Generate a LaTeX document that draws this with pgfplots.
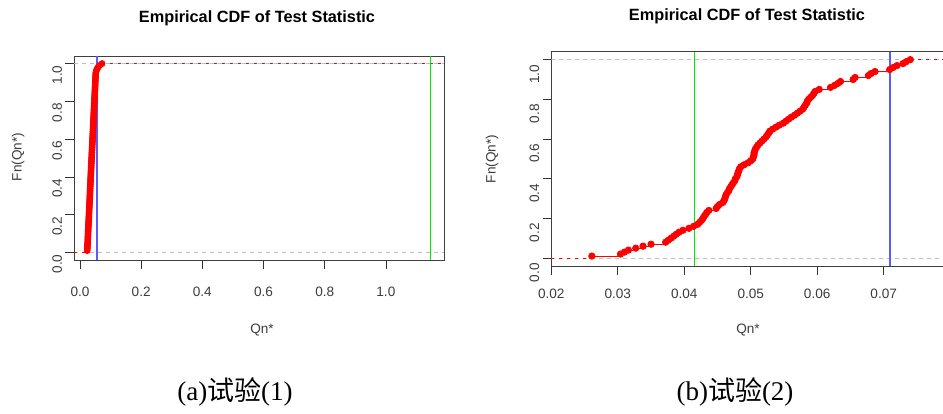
\documentclass[border=0pt]{standalone}
\usepackage{fontspec}
\setmainfont{Liberation Sans}
\newfontfamily\capfont{Liberation Serif}
\newfontfamily\cjk{Noto Sans CJK SC}
\usepackage{pgfplots}
\pgfplotsset{compat=1.18}
\definecolor{cutblue}{RGB}{90,90,255}
\definecolor{cutgreen}{RGB}{0,235,0}
\definecolor{ecdfred}{RGB}{255,0,0}
\definecolor{refgray}{RGB}{190,190,190}
\definecolor{rtext}{RGB}{60,60,60}

% ecdf of experiment 1 (x_i, i/100)
\pgfplotstableread{
x y
0.0235 0.01
0.0240 0.02
0.0243 0.03
0.0246 0.04
0.0249 0.05
0.0252 0.06
0.0255 0.07
0.0258 0.08
0.0261 0.09
0.0263 0.10
0.0266 0.11
0.0269 0.12
0.0272 0.13
0.0275 0.14
0.0278 0.15
0.0281 0.16
0.0284 0.17
0.0287 0.18
0.0290 0.19
0.0293 0.20
0.0296 0.21
0.0299 0.22
0.0302 0.23
0.0305 0.24
0.0308 0.25
0.0311 0.26
0.0314 0.27
0.0317 0.28
0.0320 0.29
0.0322 0.30
0.0325 0.31
0.0328 0.32
0.0330 0.33
0.0333 0.34
0.0336 0.35
0.0339 0.36
0.0342 0.37
0.0345 0.38
0.0347 0.39
0.0350 0.40
0.0353 0.41
0.0356 0.42
0.0359 0.43
0.0362 0.44
0.0365 0.45
0.0368 0.46
0.0371 0.47
0.0374 0.48
0.0377 0.49
0.0380 0.50
0.0383 0.51
0.0386 0.52
0.0389 0.53
0.0392 0.54
0.0395 0.55
0.0398 0.56
0.0401 0.57
0.0404 0.58
0.0407 0.59
0.0410 0.60
0.0413 0.61
0.0416 0.62
0.0419 0.63
0.0422 0.64
0.0425 0.65
0.0428 0.66
0.0431 0.67
0.0434 0.68
0.0437 0.69
0.0440 0.70
0.0443 0.71
0.0446 0.72
0.0449 0.73
0.0452 0.74
0.0455 0.75
0.0458 0.76
0.0461 0.77
0.0464 0.78
0.0467 0.79
0.0470 0.80
0.0473 0.81
0.0476 0.82
0.0479 0.83
0.0482 0.84
0.0485 0.85
0.0488 0.86
0.0491 0.87
0.0494 0.88
0.0497 0.89
0.0500 0.90
0.0503 0.91
0.0506 0.92
0.0509 0.93
0.0512 0.94
0.0516 0.95
0.0530 0.96
0.0550 0.97
0.0590 0.98
0.0640 0.99
0.0720 1.00
}\expone

% ecdf of experiment 2 (x_i, i/100)
\pgfplotstableread{
x y
0.0261 0.01
0.0304 0.02
0.0310 0.03
0.0316 0.04
0.0327 0.05
0.0338 0.06
0.0350 0.07
0.0372 0.08
0.0376 0.09
0.0380 0.10
0.0384 0.11
0.0388 0.12
0.0392 0.13
0.0398 0.14
0.0407 0.15
0.0414 0.16
0.0420 0.17
0.0423 0.18
0.0426 0.19
0.0428 0.20
0.0430 0.21
0.0432 0.22
0.0434 0.23
0.0437 0.24
0.0448 0.25
0.0450 0.26
0.0453 0.27
0.0458 0.28
0.0460 0.29
0.0461 0.30
0.0462 0.31
0.0463 0.32
0.0465 0.33
0.0467 0.34
0.0468 0.35
0.0470 0.36
0.0472 0.37
0.0474 0.38
0.0476 0.39
0.0477 0.40
0.0479 0.41
0.0480 0.42
0.0481 0.43
0.0482 0.44
0.0483 0.45
0.0485 0.46
0.0490 0.47
0.0496 0.48
0.0500 0.49
0.0503 0.50
0.0504 0.51
0.0505 0.52
0.0505 0.53
0.0506 0.54
0.0507 0.55
0.0509 0.56
0.0511 0.57
0.0514 0.58
0.0517 0.59
0.0520 0.60
0.0523 0.61
0.0525 0.62
0.0527 0.63
0.0529 0.64
0.0533 0.65
0.0538 0.66
0.0543 0.67
0.0549 0.68
0.0553 0.69
0.0557 0.70
0.0561 0.71
0.0566 0.72
0.0570 0.73
0.0574 0.74
0.0578 0.75
0.0580 0.76
0.0582 0.77
0.0584 0.78
0.0585 0.79
0.0587 0.80
0.0590 0.81
0.0593 0.82
0.0595 0.83
0.0597 0.84
0.0603 0.85
0.0620 0.86
0.0626 0.87
0.0631 0.88
0.0635 0.89
0.0654 0.90
0.0657 0.91
0.0677 0.92
0.0681 0.93
0.0687 0.94
0.0709 0.95
0.0714 0.96
0.0720 0.97
0.0729 0.98
0.0734 0.99
0.0740 1.00
}\exptwo

\pgfplotsset{
  rplot/.style={
    scale only axis,
    axis line style={black!75, line width=0.8pt},
    tick style={black!80, line width=0.7pt},
    tick align=outside,
    major tick length=8.5pt,
    xtick pos=bottom, ytick pos=left,
    ymin=-0.04, ymax=1.04,
    ytick={0,0.2,0.4,0.6,0.8,1},
    scaled ticks=false,
    ticklabel style={font=\fontsize{13.6}{15}\selectfont, text=rtext},
    yticklabel style={rotate=90, anchor=south,
      /pgf/number format/fixed, /pgf/number format/fixed zerofill,
      /pgf/number format/precision=1},
    /pgf/number format/assume math mode=true,
  },
  ecdfstep/.style={draw=ecdfred, line width=0.8pt, jump mark left,
    mark=*, mark size=3pt, mark options={draw=ecdfred, fill=ecdfred}},
  refline/.style={draw=refgray, line width=0.7pt, dash pattern=on 4pt off 4pt},
  tailline/.style={draw=ecdfred, line width=1pt, dash pattern=on 3pt off 5pt},
  cutline/.style={draw=#1, line width=1.2pt},
}

\begin{document}
\begin{tikzpicture}
\useasboundingbox (0pt,0pt) rectangle (943pt,413pt);

% --- (a) experiment 1 ---
\begin{axis}[rplot,
  at={(74pt,153pt)}, anchor=south west,
  width=370pt, height=204pt,
  xmin=-0.0196, xmax=1.19,
  xtick={0,0.2,0.4,0.6,0.8,1},
  xticklabel style={/pgf/number format/fixed, /pgf/number format/fixed zerofill,
    /pgf/number format/precision=1},
  xticklabel shift=14.5pt,
  yticklabel style={xshift=-11.5pt},
]
\addplot[ecdfstep] table {\expone};
\addplot[refline] coordinates {(-0.0196,0) (1.19,0)};
\addplot[refline] coordinates {(-0.0196,1) (1.19,1)};
\addplot[tailline] coordinates {(-0.0196,0) (0.0235,0)};
\addplot[tailline] coordinates {(0.072,1) (1.19,1)};
\addplot[cutline=cutgreen] coordinates {(1.147,-0.04) (1.147,1.04)};
\addplot[cutline=cutblue, line width=1.8pt] coordinates {(0.0545,-0.04) (0.0545,1.04)};
\end{axis}

% --- (b) experiment 2 ---
\begin{axis}[rplot,
  at={(551.3pt,147pt)}, anchor=south west,
  width=391.7pt, height=214.3pt,
  xmin=0.02, xmax=0.07892,
  axis x line*=box, axis y line*=left,
  xtick={0.02,0.03,0.04,0.05,0.06,0.07},
  xticklabel style={/pgf/number format/fixed, /pgf/number format/fixed zerofill,
    /pgf/number format/precision=2},
  xticklabel shift=10.5pt,
  yticklabel style={xshift=-14.5pt},
]
\addplot[ecdfstep, mark size=3.2pt] table {\exptwo};
\addplot[refline] coordinates {(0.02,0) (0.07892,0)};
\addplot[refline] coordinates {(0.02,1) (0.07892,1)};
\addplot[tailline] coordinates {(0.02,0) (0.0261,0)};
\addplot[tailline] coordinates {(0.0740,1) (0.07892,1)};
\addplot[cutline=cutgreen] coordinates {(0.0415,-0.04) (0.0415,1.04)};
\addplot[cutline=cutblue, line width=1.8pt] coordinates {(0.0709,-0.04) (0.0709,1.04)};
\end{axis}

% titles, axis labels, captions
\node[font=\fontsize{16.3}{18}\selectfont\bfseries] at (257pt,395pt) {Empirical CDF of Test Statistic};
\node[font=\fontsize{16.3}{18}\selectfont\bfseries] at (747pt,397pt) {Empirical CDF of Test Statistic};
\node[font=\fontsize{13.6}{15}\selectfont, text=rtext, rotate=90] at (18pt,256pt) {Fn(Qn*)};
\node[font=\fontsize{13.6}{15}\selectfont, text=rtext, rotate=90] at (492pt,254pt) {Fn(Qn*)};
\node[font=\fontsize{13.6}{15}\selectfont, text=rtext] at (262pt,83pt) {Qn*};
\node[font=\fontsize{13.6}{15}\selectfont, text=rtext] at (748pt,83pt) {Qn*};
\node[font=\fontsize{27}{29}\selectfont] at (235pt,21pt) {{\capfont (a)}{\cjk 试验}{\capfont (1)}};
\node[font=\fontsize{27}{29}\selectfont] at (735pt,21pt) {{\capfont (b)}{\cjk 试验}{\capfont (2)}};
\end{tikzpicture}
\end{document}
